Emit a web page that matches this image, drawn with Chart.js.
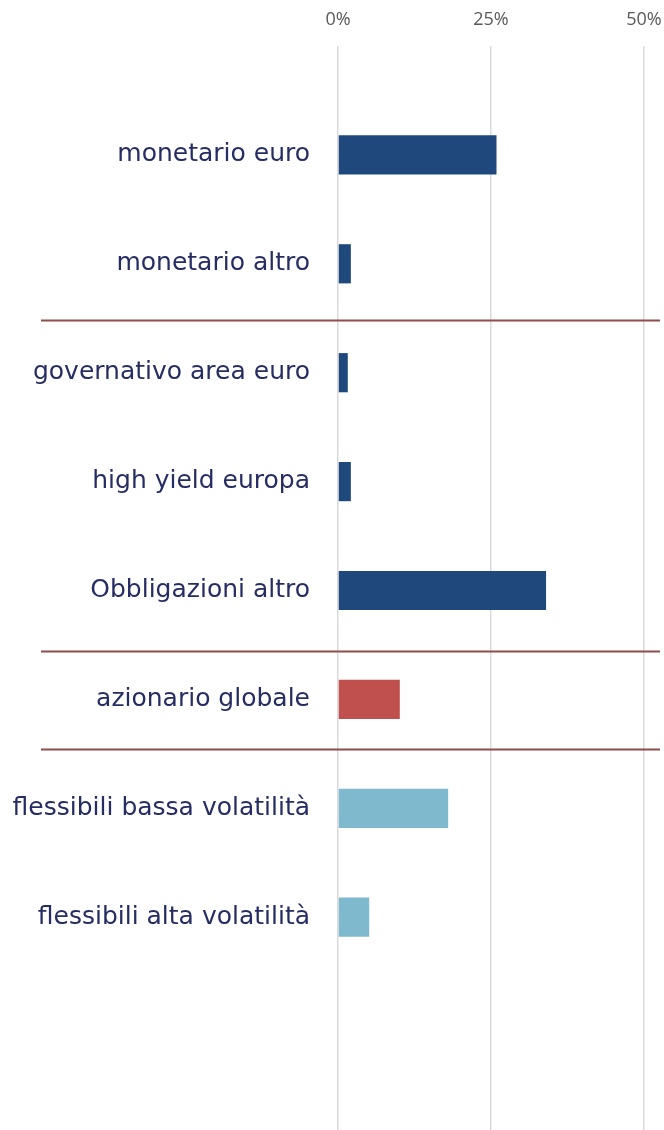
<!DOCTYPE html>
<html>
<head>
<meta charset="utf-8">
<script src="https://cdn.jsdelivr.net/npm/chart.js@4/dist/chart.umd.min.js"></script>
<style>
  html, body { margin: 0; padding: 0; background: #fff; overflow: hidden; }
  #wrap { width: 664px; height: 1135px; }
</style>
</head>
<body>
<div id="wrap"><canvas id="chart" width="664" height="1135"></canvas></div>
<script>
const categories = [
  'monetario euro',
  'monetario altro',
  'governativo area euro',
  'high yield europa',
  'Obbligazioni altro',
  'azionario globale',
  'flessibili bassa volatilità',
  'flessibili alta volatilità',
];
const shares = [25.9, 2.1, 1.6, 2.1, 34.0, 10.1, 18.0, 5.1];
const groups = ['liquidità', 'liquidità', 'obbligazioni', 'obbligazioni', 'obbligazioni', 'azioni', 'flessibili', 'flessibili'];
const xTicks = [0, 25, 50];
// separator lines, in category-axis units
const separatorsAt = [2.52, 5.56, 6.46];

const groupColors = {
  'liquidità': '#1F497D',
  'obbligazioni': '#1F497D',
  'azioni': '#C0504D',
  'flessibili': '#7FB9CE',
};

// empty slot above and two below, like the original axis
const labels = ['', ...categories, '', ''];
const values = [null, ...shares, null, null];
const colors = ['#000', ...groups.map(g => groupColors[g]), '#000', '#000'];

const separators = {
  id: 'separators',
  afterDatasetsDraw(chart) {
    const { ctx } = chart;
    const y = chart.scales.y;
    ctx.save();
    ctx.strokeStyle = '#8E4D4A';
    ctx.lineWidth = 2;
    separatorsAt.forEach(pos => {
      const py = y.getPixelForValue(pos);
      ctx.beginPath();
      ctx.moveTo(41, py);
      ctx.lineTo(chart.width - 4, py);
      ctx.stroke();
    });
    ctx.restore();
  },
};

new Chart(document.getElementById('chart'), {
  type: 'bar',
  data: {
    labels,
    datasets: [{
      data: values,
      backgroundColor: colors,
      borderWidth: 0,
      barPercentage: 0.45,
      categoryPercentage: 0.8,
    }],
  },
  options: {
    indexAxis: 'y',
    responsive: false,
    animation: false,
    layout: { padding: 0 },
    plugins: { legend: { display: false }, tooltip: { enabled: false } },
    scales: {
      x: {
        position: 'top',
        min: 0,
        max: 50,
        afterBuildTicks: scale => { scale.ticks = xTicks.map(v => ({ value: v })); },
        afterFit: scale => {
          scale.height = 46;
          scale.paddingLeft = 0;
          scale.paddingRight = 20;
        },
        border: { display: false },
        grid: { color: '#D9D9D9', lineWidth: 1.5, drawTicks: false },
        ticks: {
          padding: 15,
          color: '#595959',
          font: { family: 'Open Sans', size: 18 },
          callback: v => v + '%',
        },
      },
      y: {
        offset: false,
        afterFit: scale => {
          scale.width = 338;
          scale.paddingTop = 0;
          scale.paddingBottom = 0;
        },
        border: { display: false },
        grid: { display: false, offset: false, drawTicks: false },
        ticks: {
          autoSkip: false,
          padding: 28,
          color: '#262D63',
          font: { family: 'DejaVu Sans', size: 25 },
        },
      },
    },
  },
  plugins: [separators],
});
</script>
</body>
</html>
